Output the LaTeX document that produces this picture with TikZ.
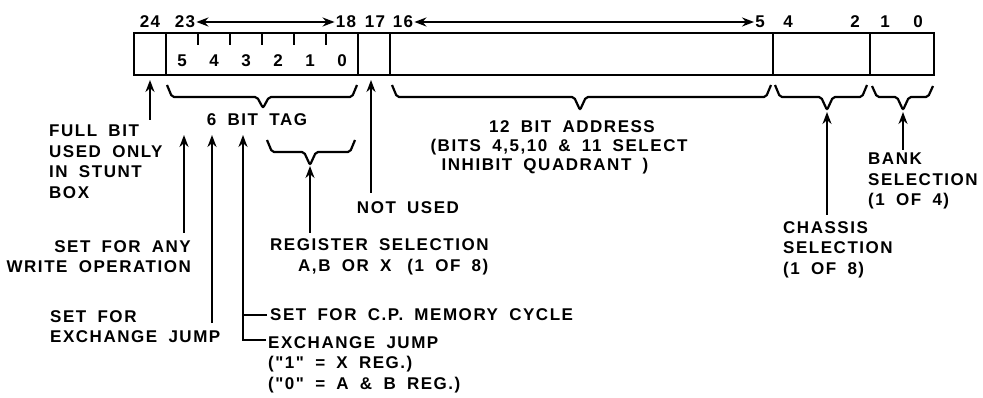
\documentclass[tikz,border=0pt]{standalone}
\usepackage{fontspec}
\newfontfamily\lett{Liberation Sans}[LetterSpace=9, WordSpace=1.8]
\usetikzlibrary{arrows.meta}
\tikzset{
  lab/.style={font=\lett\bfseries\fontsize{17}{20.5}\selectfont, inner sep=0pt, align=left},
  cell/.style={draw, line width=2.2pt, minimum height=42pt, inner sep=0pt},
  ln/.style={line width=2.2pt},
  arr/.style={ln, -{Stealth[length=12pt,width=9pt]}},
  dbl/.style={ln, {Stealth[length=12pt,width=9pt]}-{Stealth[length=12pt,width=9pt]}},
  brc/.style={ln, rounded corners=2pt},
}
\newcommand\bitbrace[6]{%
  \draw[brc] (#1,#4) -- (#1+5,#5) -- (#3-6,#5) -- (#3,#6) -- (#3+6,#5) -- (#2-5,#5) -- (#2,#4);}
\begin{document}
\begin{tikzpicture}[x=1pt,y=-1pt]
\useasboundingbox (0,0) rectangle (983,398);
% register cells
\node[cell, minimum width=32pt]  (c24)  at (150,54)   {};
\node[cell, minimum width=192pt] (tag)  at (262,54)   {};
\node[cell, minimum width=32pt]  (c17)  at (374,54)   {};
\node[cell, minimum width=383pt] (addr) at (581.5,54) {};
\node[cell, minimum width=97pt]  (chas) at (821.5,54) {};
\node[cell, minimum width=64pt]  (bank) at (902,54)   {};
% ticks in tag field
\foreach \x in {198,230,262,294,326} \draw[ln] (\x,33) -- (\x,45);
% digits in tag field
\foreach \x/\d in {182/5,214/4,246/3,278/2,310/1,342/0}
  \node[lab] (t\d) at (\x,61) {\d};
% top labels
\node[lab] (n24) at (150,22) {24};
\node[lab] (n23) at (185,22) {23};
\node[lab] (n18) at (346,22) {18};
\node[lab] (n17) at (375,22) {17};
\node[lab] (n16) at (403,22) {16};
\node[lab] (n5)  at (760,22) {5};
\node[lab] (n4)  at (788,22) {4};
\node[lab] (n2)  at (855,22) {2};
\node[lab] (n1)  at (885,22) {1};
\node[lab] (n0)  at (918,22) {0};
\draw[dbl] ([xshift=1pt]n23.east) -- ([xshift=-1pt]n18.west);
\draw[dbl] ([xshift=1pt]n16.east) -- ([xshift=-1pt]n5.west);
% braces
\bitbrace{167}{357}{263}{85}{97}{108}
\bitbrace{392}{771}{580}{85}{97}{110}
\bitbrace{775}{867}{827}{85}{97}{110}
\bitbrace{872}{933}{903}{86}{97}{110}
\bitbrace{267}{355}{310}{140}{152}{165}
% labels
\node[lab, anchor=north west] (full) at (49,125) {FULL BIT\\USED ONLY\\IN STUNT\\BOX};
\node[lab] (taglab) at (257,120) {6 BIT TAG};
\node[lab, anchor=north east, align=right] (write) at (191,240) {SET FOR ANY\\WRITE OPERATION};
\node[lab, anchor=north west] (exch) at (50,310) {SET FOR\\EXCHANGE JUMP};
\node[lab, anchor=west] (reg1) at (270,245) {REGISTER SELECTION};
\node[lab, anchor=west] (reg2) at (298,267) {A,B OR X\hspace{16pt}(1 OF 8)};
\node[lab] (notused) at (408,208) {NOT USED};
\node[lab] (addr1) at (572,127) {12 BIT ADDRESS};
\node[lab] (addr2) at (559,147) {(BITS 4,5,10 \& 11 SELECT};
\node[lab] (addr3) at (545,166) {INHIBIT QUADRANT )};
\node[lab, anchor=west] (cp) at (270,315) {SET FOR C.P. MEMORY CYCLE};
\node[lab, anchor=north west] (exj) at (268,336) {EXCHANGE JUMP\\("1" = X REG.)\\("0" = A \& B REG.)};
\node[lab, anchor=north west] (chaslab) at (783,221) {CHASSIS\\SELECTION\\(1 OF 8)};
\node[lab, anchor=north west] (banklab) at (868,153) {BANK\\SELECTION\\(1 OF 4)};
% arrow targets
\coordinate (fulltip) at (150,80);
\coordinate (nutip) at (371,80);
\coordinate (wtip) at (184,135);
\coordinate (etip) at (212,135);
\coordinate (ctip) at (243,135);
\coordinate (rtip) at (310,166);
\coordinate (chtip) at (827,112);
\coordinate (bktip) at (903,112);
% arrows
\draw[arr] (150,120) -- (fulltip);
\draw[arr] (371,193) -- (nutip);
\draw[arr] ([yshift=7pt]write.north -| wtip) -- (wtip);
\draw[arr] (212,323) -- (etip);
\draw[arr] ([xshift=-2pt]exj.north west |- 0,340) -| (ctip);
\draw[ln] ([xshift=-3pt]cp.west) -- (cp.west -| ctip);
\draw[arr] ([yshift=6pt]reg1.north -| rtip) -- (rtip);
\draw[arr] ([yshift=6pt]chaslab.north -| chtip) -- (chtip);
\draw[arr] ([yshift=3pt]banklab.north -| bktip) -- (bktip);
\end{tikzpicture}
\end{document}
